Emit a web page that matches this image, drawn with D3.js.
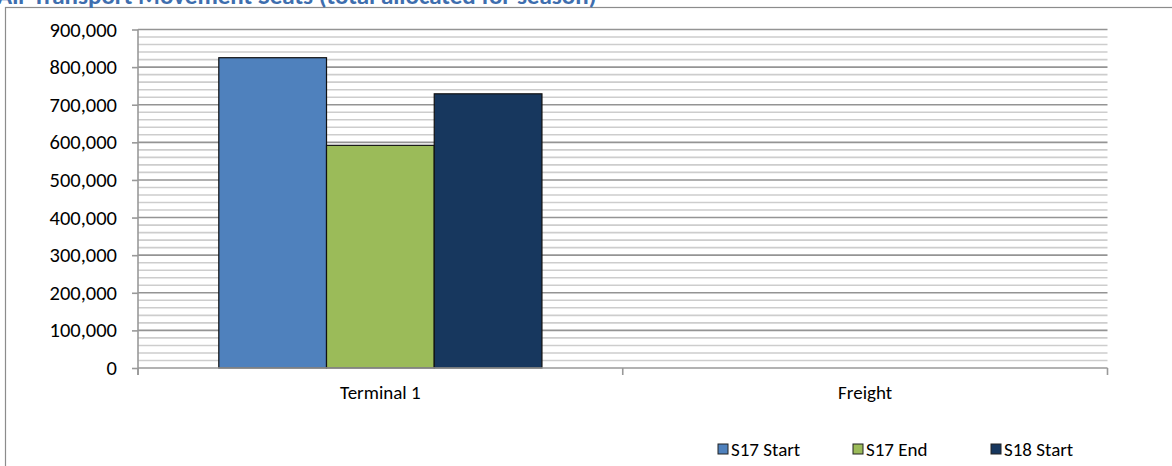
<!DOCTYPE html>
<html>
<head>
<meta charset="utf-8">
<script src="https://cdn.jsdelivr.net/npm/d3@7"></script>
<style>
  html, body { margin: 0; padding: 0; background: #fff; overflow: hidden; }
  svg { display: block; }
  svg text { font-family: Calibri, Carlito, Lato, "Open Sans", sans-serif; }
</style>
</head>
<body>
<svg id="chart" width="1172" height="466"></svg>
<script>
// Seats allocated per terminal, by season snapshot
const categories = ["Terminal 1", "Freight"];
const seriesNames = ["S17 Start", "S17 End", "S18 Start"];
const s17Start = [825000, 0];
const s17End = [592000, 0];
const s18Start = [729000, 0];
const yTicks = [0, 100000, 200000, 300000, 400000, 500000, 600000, 700000, 800000, 900000];
const titleText = "Air Transport Movement Seats (total allocated for season)";

const seriesValues = [s17Start, s17End, s18Start];
const colors = ["#4F81BD", "#9BBB59", "#17375E"];

const svg = d3.select("#chart");
const W = 1172, H = 466;
const plot = { left: 138, right: 1107.5, top: 29.5, bottom: 368 };
const labelSize = 19;

// chart frame
svg.append("rect")
  .attr("x", 5.5).attr("y", 7.5)
  .attr("width", W + 10).attr("height", H + 10)
  .attr("fill", "#fff").attr("stroke", "#8c8c8c").attr("stroke-width", 1.2);

// title, running off the top edge
svg.append("text")
  .attr("x", -3).attr("y", 4)
  .attr("fill", "#3E6EAE")
  .attr("font-weight", "bold")
  .attr("font-size", 25)
  .text(titleText);

const y = d3.scaleLinear().domain([0, 900000]).range([plot.bottom, plot.top]);
const x0 = d3.scaleBand().domain(categories).range([plot.left, plot.right]).paddingInner(0).paddingOuter(0);
const x1 = d3.scaleBand().domain(seriesNames).range([0, x0.bandwidth()]).paddingInner(0).paddingOuter(0.75);

// minor gridlines every 20,000
const minor = d3.range(20000, 900001, 20000).filter(v => v % 100000 !== 0);
svg.append("g").selectAll("line").data(minor).join("line")
  .attr("x1", plot.left).attr("x2", plot.right)
  .attr("y1", d => y(d)).attr("y2", d => y(d))
  .attr("stroke", "#cdcdcd").attr("stroke-width", 1.6);

// major gridlines
svg.append("g").selectAll("line").data(yTicks.filter(v => v > 0)).join("line")
  .attr("x1", plot.left).attr("x2", plot.right)
  .attr("y1", d => y(d)).attr("y2", d => y(d))
  .attr("stroke", "#949494").attr("stroke-width", 1.6);

// bars
const groups = svg.append("g").selectAll("g").data(categories).join("g")
  .attr("transform", d => `translate(${x0(d)},0)`);
groups.selectAll("rect")
  .data((c, i) => seriesNames.map((s, j) => ({ s, v: seriesValues[j][i], c: colors[j] })))
  .join("rect")
  .filter(d => d.v > 0)
  .attr("x", d => x1(d.s))
  .attr("width", x1.bandwidth())
  .attr("y", d => y(d.v))
  .attr("height", d => y(0) - y(d.v))
  .attr("fill", d => d.c)
  .attr("stroke", "#111").attr("stroke-width", 1.2);

// y axis
const yAxis = svg.append("g")
  .attr("transform", `translate(${plot.left},0)`)
  .call(d3.axisLeft(y).tickValues(yTicks).tickFormat(d3.format(",")).tickSize(6).tickPadding(15))
  .attr("font-family", null).attr("font-size", 20.5);
yAxis.select(".domain").attr("stroke", "#999").attr("stroke-width", 1.6)
  .attr("d", `M0,${plot.top}V${plot.bottom + 7}`);
yAxis.selectAll(".tick line").attr("stroke", "#999").attr("stroke-width", 1.6);
yAxis.selectAll(".tick text").attr("fill", "#000");

// x axis
const xAxis = svg.append("g")
  .attr("transform", `translate(0,${plot.bottom})`)
  .call(d3.axisBottom(x0).tickSize(0).tickPadding(18))
  .attr("font-family", null).attr("font-size", labelSize);
xAxis.select(".domain").attr("stroke", "#999").attr("stroke-width", 1.6)
  .attr("d", `M${plot.left},0H${plot.right}`);
xAxis.selectAll(".tick text").attr("fill", "#000");
const bounds = [plot.left, ...categories.map(c => x0(c) + x0.bandwidth())];
xAxis.append("g").selectAll("line").data(bounds).join("line")
  .attr("x1", d => d).attr("x2", d => d).attr("y1", 0).attr("y2", 7)
  .attr("stroke", "#999").attr("stroke-width", 1.6);

// legend
const legendX = [718, 853, 991];
const legend = svg.append("g").selectAll("g").data(seriesNames).join("g")
  .attr("transform", (d, i) => `translate(${legendX[i]},444)`);
legend.append("rect")
  .attr("width", 10).attr("height", 10)
  .attr("fill", (d, i) => colors[i]).attr("stroke", "#222").attr("stroke-width", 1);
legend.append("text")
  .attr("x", 13).attr("y", 5).attr("dy", "0.35em")
  .attr("font-size", labelSize).attr("fill", "#000")
  .text(d => d);
</script>
</body>
</html>
